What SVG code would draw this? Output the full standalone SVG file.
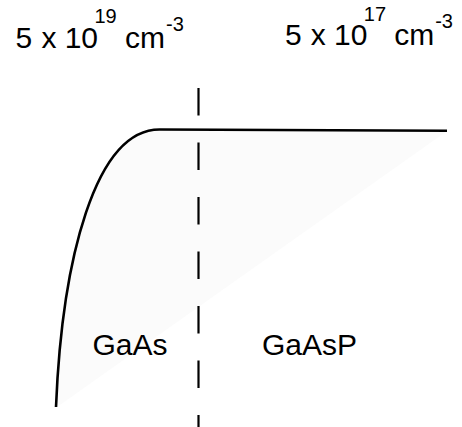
<svg xmlns="http://www.w3.org/2000/svg" width="462" height="427" viewBox="0 0 462 427">
<style>
.t{font-family:"Liberation Sans",Arial,sans-serif;fill:#000}
.big{font-size:30px}
.sup{font-size:20px}
.lab{font-size:30px}
.crv{fill:none;stroke:#000;stroke-width:2.6;stroke-linecap:butt}
</style>
<rect width="462" height="427" fill="#fff"/>
<g id="region">
<path d="M57,407 C62,260 95,129 160,129.5 L447,131 Z" fill="#fbfbfb"/>
</g>
<g id="connectors">
<path class="crv" d="M56,407 C62,260 95,129 160,129.5 L447,130.8"/>
<line x1="198.5" y1="88" x2="198.5" y2="427" stroke="#000" stroke-width="2.2" stroke-dasharray="27.5 27"/>
</g>
<g id="label-left">
<text class="t big" x="15.4" y="48">5</text>
<text class="t big" x="41.5" y="48">x</text>
<text class="t big" x="64.7" y="48">10</text>
<text class="t sup" x="94.5" y="23">19</text>
<text class="t big" x="125" y="48">cm</text>
<text class="t sup" x="166" y="31">-3</text>
</g>
<g id="label-right">
<text class="t big" x="285" y="45">5</text>
<text class="t big" x="310.8" y="45">x</text>
<text class="t big" x="334" y="45">10</text>
<text class="t sup" x="363.8" y="20.5">17</text>
<text class="t big" x="394.3" y="45">cm</text>
<text class="t sup" x="435.2" y="28">-3</text>
</g>
<g id="gaas">
<text class="t lab" x="92.5" y="355">GaAs</text>
</g>
<g id="gaasp">
<text class="t lab" x="262" y="354.5">GaAsP</text>
</g>
</svg>
